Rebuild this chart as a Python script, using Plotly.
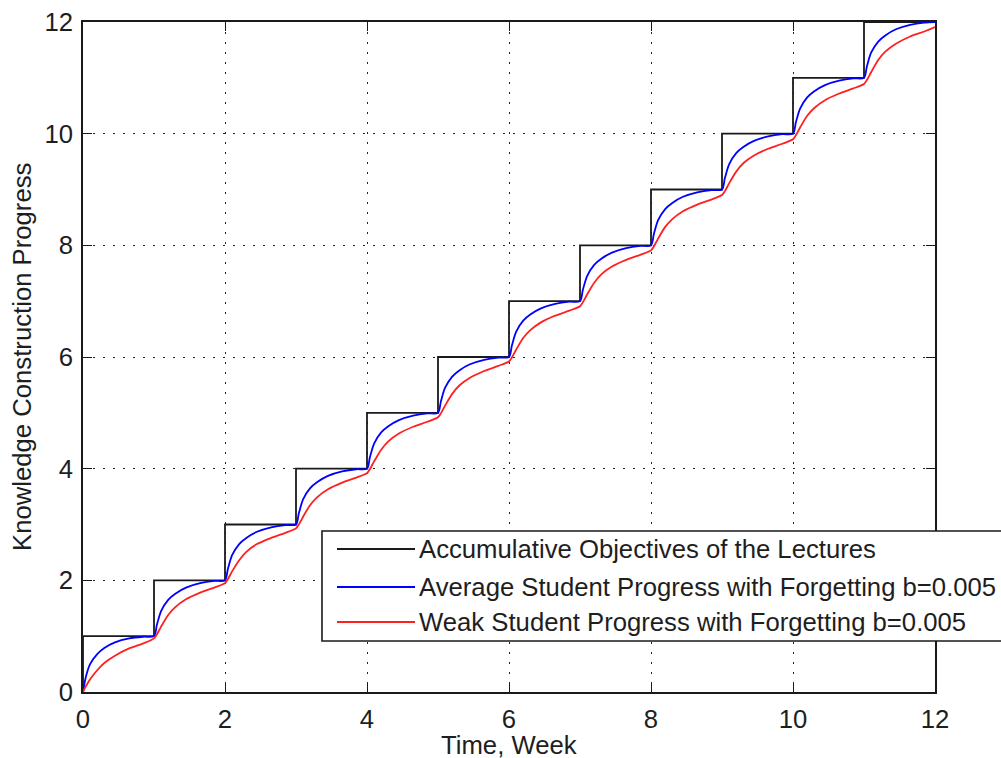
import plotly.graph_objects as go

# Week index of each lecture and the cumulative objective reached by it
lecture_weeks = [0, 1, 2, 3, 4, 5, 6, 7, 8, 9, 10, 11, 12]
objectives = [1, 2, 3, 4, 5, 6, 7, 8, 9, 10, 11, 12, 12]

# Sample positions inside each week (fraction of a week)
week_offsets = [0.0, 0.04, 0.10, 0.20, 0.30, 0.45, 0.65, 0.85]

# Average student progress, one row per week, at the offsets above
avg_progress = [
    [0.00, 0.27, 0.50, 0.68, 0.79, 0.89, 0.96, 0.99],
    [1.00, 1.20, 1.45, 1.65, 1.76, 1.87, 1.95, 1.99],
    [2.00, 2.20, 2.45, 2.65, 2.76, 2.87, 2.95, 2.99],
    [3.00, 3.20, 3.45, 3.65, 3.76, 3.87, 3.95, 3.99],
    [4.00, 4.20, 4.45, 4.65, 4.76, 4.87, 4.95, 4.99],
    [5.00, 5.20, 5.45, 5.65, 5.76, 5.87, 5.95, 5.99],
    [6.00, 6.20, 6.45, 6.65, 6.76, 6.87, 6.95, 6.99],
    [7.00, 7.20, 7.45, 7.65, 7.76, 7.87, 7.95, 7.99],
    [8.00, 8.20, 8.45, 8.65, 8.76, 8.87, 8.95, 8.99],
    [9.00, 9.20, 9.45, 9.65, 9.76, 9.87, 9.95, 9.99],
    [10.00, 10.20, 10.45, 10.65, 10.76, 10.87, 10.95, 10.99],
    [11.00, 11.20, 11.45, 11.65, 11.76, 11.87, 11.95, 11.99],
]
avg_final = 12.0

# Weak student progress, same layout
weak_progress = [
    [0.00, 0.10, 0.23, 0.39, 0.52, 0.65, 0.78, 0.87],
    [0.96, 1.03, 1.17, 1.38, 1.52, 1.66, 1.78, 1.87],
    [1.95, 2.02, 2.16, 2.36, 2.51, 2.65, 2.76, 2.85],
    [2.93, 3.00, 3.14, 3.35, 3.49, 3.63, 3.75, 3.84],
    [3.92, 3.99, 4.13, 4.34, 4.49, 4.63, 4.75, 4.84],
    [4.92, 4.99, 5.13, 5.34, 5.49, 5.63, 5.75, 5.84],
    [5.92, 5.99, 6.13, 6.34, 6.48, 6.62, 6.74, 6.83],
    [6.91, 6.98, 7.12, 7.33, 7.48, 7.62, 7.74, 7.83],
    [7.91, 7.98, 8.12, 8.33, 8.47, 8.61, 8.73, 8.82],
    [8.90, 8.97, 9.11, 9.32, 9.47, 9.61, 9.73, 9.82],
    [9.90, 9.97, 10.11, 10.32, 10.46, 10.60, 10.72, 10.81],
    [10.89, 10.96, 11.10, 11.32, 11.47, 11.61, 11.74, 11.83],
]
weak_final = 11.91

legend_labels = [
    "Accumulative Objectives of the Lectures",
    "Average Student Progress with Forgetting b=0.005",
    "Weak Student Progress with Forgetting b=0.005",
]
colors = ["#1a1a1a", "#0000ff", "#ff2020"]

tick_vals = [0, 2, 4, 6, 8, 10, 12]
tick_text = ["0", "2", "4", "6", "8", "10", "12"]

x_title = "Time, Week"
y_title = "Knowledge Construction Progress"

FONT = "Liberation Sans, Arial, Helvetica, sans-serif"
TXT = "#1e1e1e"
FS = 25.7

# Time axis for the progress curves
t = [w + o for w in range(len(avg_progress)) for o in week_offsets] + [12.0]
avg_y = [v for row in avg_progress for v in row] + [avg_final]
weak_y = [v for row in weak_progress for v in row] + [weak_final]

fig = go.Figure()
fig.add_trace(go.Scatter(
    x=[0] + lecture_weeks, y=[0] + objectives, mode="lines",
    line=dict(color=colors[0], width=1.8, shape="hv"), showlegend=False,
))
fig.add_trace(go.Scatter(
    x=t, y=avg_y, mode="lines",
    line=dict(color=colors[1], width=1.8, shape="spline", smoothing=0.8),
    showlegend=False,
))
fig.add_trace(go.Scatter(
    x=t, y=weak_y, mode="lines",
    line=dict(color=colors[2], width=1.8, shape="spline", smoothing=0.8),
    showlegend=False,
))

axis_common = dict(
    range=[0, 12], tickvals=tick_vals, ticktext=tick_text, automargin=False,
    ticks="inside", ticklen=9, tickwidth=1.4, tickcolor="#1a1a1a",
    showline=True, linecolor="#1a1a1a", linewidth=1.6, mirror="ticks",
    showgrid=True, gridcolor="#222222", gridwidth=1.4, griddash="2px,8px",
    zeroline=False, tickfont=dict(family=FONT, size=FS, color=TXT),
)

fig.update_xaxes(**axis_common, ticklabelstandoff=3)
fig.update_yaxes(**axis_common, ticklabelstandoff=3)

# Legend box drawn in paper coordinates so it can run past the right edge
lx0, lx1, ly0, ly1 = 0.2805, 1.09, 0.0761, 0.2403
shapes = [dict(type="rect", xref="paper", yref="paper", x0=lx0, x1=lx1, y0=ly0, y1=ly1,
               fillcolor="white", line=dict(color="#1a1a1a", width=1.6), layer="above")]
row_y = [0.2134, 0.1567, 0.1045]
annotations = [
    dict(text=x_title, xref="paper", yref="paper", x=0.5, y=-0.079,
         xanchor="center", yanchor="middle", showarrow=False,
         font=dict(family=FONT, size=FS, color=TXT)),
    dict(text=y_title, xref="paper", yref="paper", x=-0.0716, y=0.5, textangle=-90,
         xanchor="center", yanchor="middle", showarrow=False,
         font=dict(family=FONT, size=FS, color=TXT)),
]
for lbl, col, ry in zip(legend_labels, colors, row_y):
    shapes.append(dict(type="line", xref="paper", yref="paper", x0=0.2981, x1=0.3897,
                       y0=ry, y1=ry, line=dict(color=col, width=1.8), layer="above"))
    annotations.append(dict(text=lbl, xref="paper", yref="paper", x=0.3920, y=ry,
                            xanchor="left", yanchor="middle", showarrow=False,
                            font=dict(family=FONT, size=FS, color=TXT)))

fig.update_layout(
    width=1001, height=758,
    margin=dict(l=83, r=66, t=22, b=66),
    paper_bgcolor="white", plot_bgcolor="white",
    shapes=shapes, annotations=annotations,
    showlegend=False,
)

fig.write_html("out.html")
